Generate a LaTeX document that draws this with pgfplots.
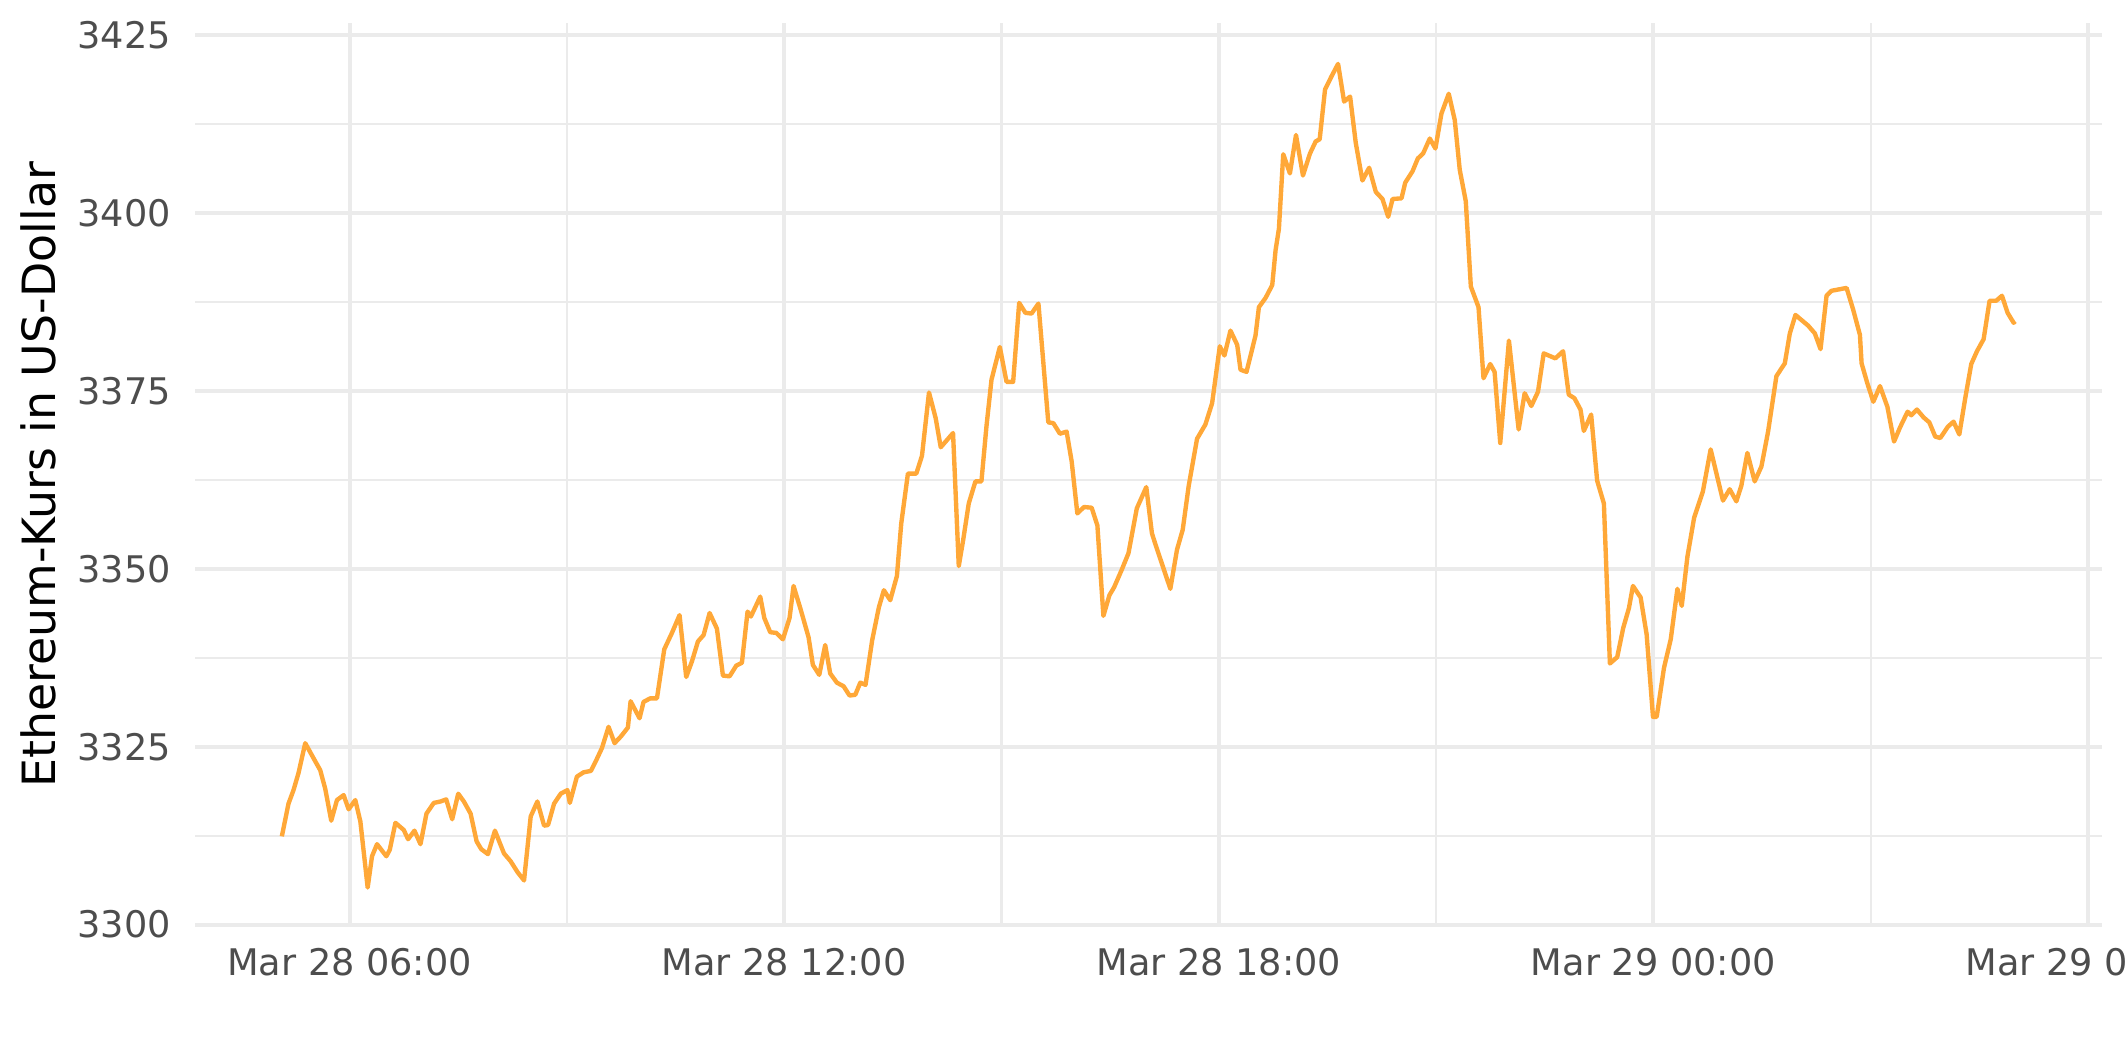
\documentclass[border=0pt]{standalone}
\usepackage{fontspec}
\setmainfont{DejaVu Sans}
\usepackage{pgfplots}
\pgfplotsset{compat=1.18}
\definecolor{gridc}{HTML}{EBEBEB}
\definecolor{tickc}{HTML}{4D4D4D}
\definecolor{linec}{HTML}{FFA838}
\begin{document}
\begin{tikzpicture}
\path[use as bounding box] (-46.8pt,-32.5pt) rectangle (463.2pt,222.4pt);
\begin{axis}[
  scale only axis, width=457.6pt, height=216.8pt,
  xmin=3.865, xmax=30.19, ymin=3299.7, ymax=3426.7,
  axis line style={draw=none},
  major tick length=0pt, minor tick length=0pt,
  xtick={6,12,18,24,30},
  xticklabels={Mar 28 06:00, Mar 28 12:00, Mar 28 18:00, Mar 29 00:00, Mar 29 06:00},
  minor xtick={9,15,21,27},
  ytick={3300,3325,3350,3375,3400,3425},
  minor ytick={3312.5,3337.5,3362.5,3387.5,3412.5},
  grid=both,
  major grid style={draw=gridc, line width=0.95pt},
  minor grid style={draw=gridc, line width=0.5pt},
  scaled y ticks=false,
  /pgf/number format/assume math mode=true,
  /pgf/number format/1000 sep={},
  ticklabel style={font=\fontsize{8.8}{10}\selectfont, text=tickc},
  xticklabel style={anchor=north, inner sep=0pt, yshift=-5.1pt},
  yticklabel style={anchor=east, inner sep=0pt, xshift=-5.6pt},
  ylabel={Ethereum-Kurs in US-Dollar},
  ylabel style={at={(axis description cs:-0.0722,0.5)}, anchor=south, inner sep=0pt, font=\fontsize{11}{13}\selectfont, text=black},
  clip=false,
]
\addplot[color=linec, line width=1.05pt, line join=round] coordinates {
(5.064,3312.4)(5.156,3317.0)(5.225,3318.9)(5.294,3321.3)(5.387,3325.5)(5.479,3323.8)
(5.594,3321.7)(5.663,3319.1)(5.746,3314.6)(5.825,3317.5)(5.917,3318.2)(5.986,3316.2)
(6.078,3317.5)(6.148,3314.5)(6.249,3305.2)(6.309,3309.6)(6.378,3311.3)(6.507,3309.6)
(6.554,3310.5)(6.632,3314.3)(6.747,3313.3)(6.807,3312.0)(6.895,3313.2)(6.978,3311.3)
(7.061,3315.6)(7.162,3317.1)(7.255,3317.3)(7.333,3317.6)(7.416,3314.8)(7.499,3318.4)
(7.577,3317.3)(7.670,3315.6)(7.753,3311.7)(7.817,3310.6)(7.910,3309.9)(8.006,3313.2)
(8.131,3310.0)(8.223,3308.9)(8.316,3307.4)(8.408,3306.2)(8.500,3315.2)(8.592,3317.3)
(8.685,3313.9)(8.740,3314.0)(8.823,3317.0)(8.915,3318.4)(9.007,3318.9)(9.040,3317.1)
(9.138,3320.8)(9.230,3321.4)(9.331,3321.6)(9.405,3323.1)(9.483,3324.8)(9.575,3327.8)
(9.658,3325.5)(9.750,3326.5)(9.842,3327.7)(9.879,3331.4)(10.003,3329.0)(10.058,3331.3)
(10.150,3331.8)(10.243,3331.8)(10.344,3338.7)(10.450,3341.0)(10.555,3343.5)(10.647,3334.8)
(10.726,3337.0)(10.809,3339.8)(10.887,3340.7)(10.970,3343.8)(11.071,3341.6)(11.154,3335.0)
(11.246,3334.9)(11.338,3336.4)(11.416,3336.8)(11.494,3344.0)(11.540,3343.3)(11.669,3346.1)
(11.725,3343.1)(11.807,3341.1)(11.890,3341.0)(11.982,3340.1)(12.074,3343.1)(12.129,3347.6)
(12.230,3344.2)(12.336,3340.4)(12.396,3336.5)(12.484,3335.1)(12.566,3339.3)(12.635,3335.3)
(12.728,3334.0)(12.820,3333.5)(12.902,3332.2)(12.981,3332.3)(13.050,3334.0)(13.123,3333.7)
(13.215,3340.0)(13.307,3344.6)(13.376,3347.0)(13.464,3345.6)(13.556,3349.0)(13.616,3356.4)
(13.708,3363.4)(13.824,3363.4)(13.902,3365.9)(13.999,3374.8)(14.091,3371.2)(14.161,3367.1)
(14.331,3369.1)(14.410,3350.4)(14.470,3354.0)(14.548,3359.2)(14.640,3362.3)(14.723,3362.3)
(14.792,3370.0)(14.862,3376.6)(14.977,3381.2)(15.069,3376.3)(15.161,3376.3)(15.244,3387.4)
(15.330,3386.0)(15.415,3385.9)(15.510,3387.3)(15.646,3370.6)(15.715,3370.5)(15.807,3369.0)
(15.899,3369.3)(15.969,3365.1)(16.047,3357.8)(16.139,3358.7)(16.245,3358.6)(16.324,3356.1)
(16.407,3343.4)(16.490,3346.3)(16.554,3347.4)(16.661,3349.9)(16.753,3352.2)(16.868,3358.5)
(16.999,3361.5)(17.077,3355.0)(17.124,3353.5)(17.331,3347.2)(17.423,3352.7)(17.502,3355.5)
(17.585,3361.7)(17.700,3368.3)(17.815,3370.3)(17.908,3373.3)(18.014,3381.3)(18.078,3380.0)
(18.161,3383.5)(18.254,3381.5)(18.300,3378.0)(18.383,3377.7)(18.507,3382.8)(18.554,3386.8)
(18.646,3388.1)(18.738,3389.9)(18.784,3394.8)(18.830,3397.8)(18.890,3408.3)(18.982,3405.6)
(19.066,3411.0)(19.162,3405.3)(19.259,3408.4)(19.338,3410.1)(19.393,3410.4)(19.467,3417.4)
(19.554,3419.2)(19.647,3421.0)(19.730,3415.7)(19.813,3416.4)(19.891,3409.9)(19.983,3404.6)
(20.076,3406.4)(20.168,3403.0)(20.260,3402.0)(20.339,3399.5)(20.399,3402.0)(20.523,3402.1)
(20.574,3404.3)(20.675,3405.9)(20.748,3407.7)(20.821,3408.4)(20.913,3410.5)(20.991,3409.1)
(21.074,3414.0)(21.175,3416.8)(21.258,3413.1)(21.327,3406.1)(21.410,3401.7)(21.480,3389.7)
(21.586,3386.8)(21.655,3376.8)(21.748,3378.8)(21.808,3377.7)(21.886,3367.7)(22.006,3382.1)
(22.140,3369.6)(22.223,3374.7)(22.315,3372.9)(22.407,3374.9)(22.486,3380.3)(22.647,3379.6)
(22.754,3380.6)(22.832,3374.5)(22.910,3374.0)(22.994,3372.4)(23.040,3369.4)(23.141,3371.7)
(23.224,3362.4)(23.317,3359.2)(23.400,3336.7)(23.501,3337.6)(23.584,3341.7)(23.663,3344.5)
(23.718,3347.6)(23.824,3346.0)(23.907,3340.8)(23.995,3329.2)(24.046,3329.2)(24.147,3336.1)
(24.240,3340.1)(24.332,3347.2)(24.392,3344.8)(24.470,3351.7)(24.563,3357.2)(24.684,3360.9)
(24.791,3366.8)(24.961,3359.6)(25.054,3361.2)(25.146,3359.5)(25.215,3361.7)(25.298,3366.3)
(25.399,3362.3)(25.492,3364.4)(25.584,3369.3)(25.699,3377.1)(25.815,3378.9)(25.884,3383.1)
(25.962,3385.7)(26.137,3384.2)(26.230,3383.1)(26.308,3380.9)(26.391,3388.4)(26.460,3389.1)
(26.668,3389.5)(26.760,3386.4)(26.852,3382.9)(26.875,3378.9)(26.954,3376.1)(27.037,3373.5)
(27.129,3375.7)(27.231,3372.8)(27.323,3367.9)(27.406,3369.9)(27.510,3372.1)(27.561,3371.6)
(27.639,3372.4)(27.731,3371.3)(27.810,3370.6)(27.892,3368.6)(27.961,3368.4)(28.067,3370.0)
(28.145,3370.7)(28.224,3368.9)(28.306,3374.0)(28.389,3378.8)(28.468,3380.6)(28.560,3382.3)
(28.642,3387.7)(28.734,3387.7)(28.813,3388.4)(28.891,3386.0)(28.974,3384.6)(28.997,3384.8)
};
\end{axis}
\end{tikzpicture}
\end{document}
